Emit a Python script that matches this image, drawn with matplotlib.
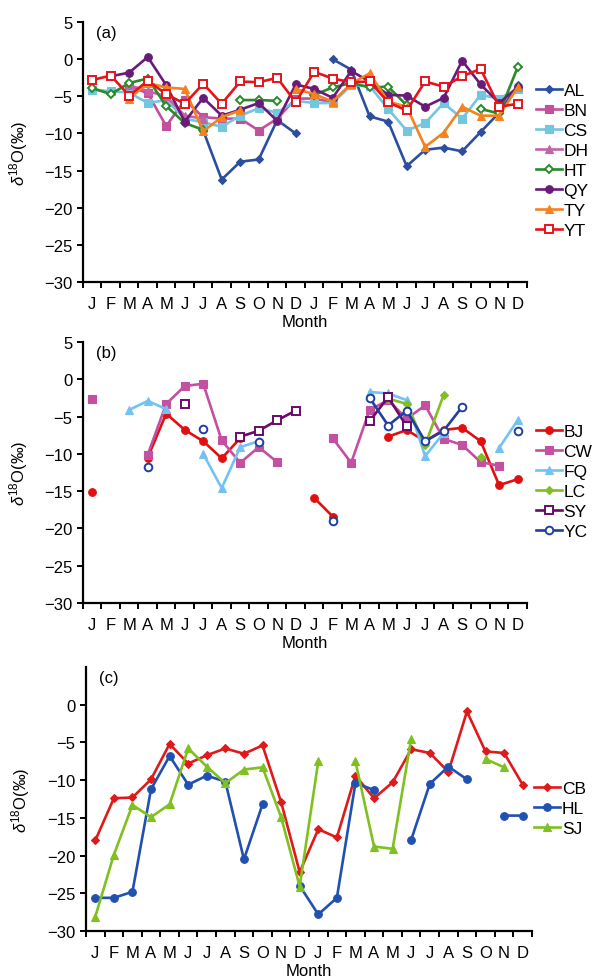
import numpy as np
import matplotlib
matplotlib.use("Agg")
import matplotlib.pyplot as plt

plt.rcParams['font.family'] = ['Liberation Sans', 'DejaVu Sans']
plt.rcParams['mathtext.fontset'] = 'custom'
plt.rcParams['mathtext.rm'] = 'Liberation Sans'
plt.rcParams['mathtext.it'] = 'Liberation Sans:italic'

nan = np.nan

# two years of monthly values, J..D J..D
MONTHS = ['J', 'F', 'M', 'A', 'M', 'J', 'J', 'A', 'S', 'O', 'N', 'D'] * 2

# ---------------- panel (a) ----------------
AL = [nan, nan, nan, nan, nan, nan, -9.6, -16.2, -13.8, -13.5, -8.2, -10.0,
      nan, 0.0, -1.4, -7.7, -8.4, -14.4, -12.2, -11.9, -12.4, -9.8, -7.2, -3.5]
BN = [nan, nan, -3.6, -4.6, -9.0, -5.5, -7.8, -8.0, -8.0, -9.6, -8.0, -5.3,
      -5.3, -5.8, nan, nan, nan, nan, nan, nan, nan, nan, nan, nan]
CS = [-4.1, -4.3, -4.5, -5.9, -5.5, -8.0, -8.5, -9.1, -7.6, -6.6, -7.2, -5.6,
      -5.9, -5.9, -3.5, -3.6, -6.7, -9.6, -8.6, -5.9, -8.0, -4.8, -5.3, -4.0]
DH = [nan, nan, -3.5, -4.3, -5.0, -7.6, -8.0, nan, nan, nan, nan, nan,
      nan, nan, nan, nan, nan, nan, nan, nan, nan, nan, nan, nan]
HT = [-3.9, -4.7, -3.2, -2.6, -6.3, -8.6, -9.5, nan, -5.5, -5.5, -5.6, nan,
      -4.8, -3.8, -3.2, -3.8, -3.7, -6.2, nan, nan, nan, -6.7, -7.3, -1.1]
QY = [nan, -2.3, -1.8, 0.3, -3.5, -8.4, -5.2, -7.6, -6.8, -5.9, -8.3, -3.4,
      -4.0, -5.2, -1.6, -3.0, -4.8, -4.9, -6.4, -5.2, -0.2, -3.4, -5.9, -3.8]
TY = [nan, nan, -5.3, -3.2, -3.8, -4.0, -9.7, -7.8, -6.9, nan, nan, -4.0,
      -4.7, -5.7, -3.3, -1.9, -5.7, -6.4, -11.8, -9.9, -6.4, -7.6, -7.6, -3.8]
YT = [-2.8, -2.2, -4.9, -2.9, -4.7, -6.0, -3.3, -6.0, -3.0, -3.1, -2.5, -5.8,
      -1.7, -2.6, -3.1, -3.0, -5.8, -6.9, -3.0, -3.7, -2.3, -1.3, -6.4, -6.0]

# ---------------- panel (b) ----------------
BJ = [-15.1, nan, nan, -10.5, -4.6, -6.8, -8.3, -10.6, -7.9, nan, nan, nan,
      -15.9, -18.4, nan, nan, -7.7, -6.8, -8.3, -6.8, -6.5, -8.3, -14.2, -13.4]
CW = [-2.7, nan, nan, -10.1, -3.3, -0.9, -0.6, -8.2, -11.2, -9.1, -11.1, nan,
      nan, -7.9, -11.2, -4.1, -2.8, -5.3, -3.5, -8.0, -8.8, -11.1, -11.6, nan]
FQ = [nan, nan, -4.1, -2.9, -4.0, nan, -10.0, -14.6, -9.1, -8.3, nan, nan,
      nan, nan, nan, -1.7, -1.9, -2.8, -10.3, -7.2, nan, nan, -9.2, -5.5]
LC = [nan, nan, nan, nan, nan, nan, nan, nan, nan, nan, nan, nan,
      nan, nan, nan, nan, -2.6, -3.3, -8.8, -2.1, nan, -10.4, nan, nan]
SY = [nan, nan, nan, nan, nan, -3.3, nan, nan, -7.7, -6.9, -5.5, -4.2,
      nan, nan, nan, -5.6, -2.4, -6.3, nan, nan, nan, nan, nan, nan]
YC = [nan, nan, nan, -11.8, nan, nan, -6.7, nan, nan, -8.4, nan, nan,
      nan, -19.0, nan, -2.5, -6.2, -4.2, -8.3, -6.9, -3.7, nan, nan, -6.9]

# ---------------- panel (c) ----------------
CB = [-18.0, -12.4, -12.3, -9.9, -5.2, -7.8, -6.7, -5.8, -6.5, -5.4, -12.9, -22.2,
      -16.5, -17.6, -9.4, -12.4, -10.3, -5.9, -6.4, -8.9, -0.9, -6.2, -6.4, -10.6]
HL = [-25.6, -25.6, -24.8, -11.2, -6.8, -10.6, -9.4, -10.2, -20.5, -13.2, nan, -24.0,
      -27.8, -25.6, -10.4, -11.3, nan, -17.9, -10.5, -8.2, -9.9, nan, -14.7, -14.7]
SJ = [-28.1, -19.9, -13.3, -14.9, -13.2, -5.8, -8.2, -10.4, -8.6, -8.3, -14.9, -24.1,
      -7.5, nan, -7.5, -18.8, -19.1, -4.5, nan, nan, nan, -7.2, -8.3, nan]

# name, values, colour, marker, open?
panel_a = [
    ('AL', AL, '#2b4f9e', 'D', False),
    ('BN', BN, '#c4509c', 's', False),
    ('CS', CS, '#72c6de', 's', False),
    ('DH', DH, '#c462a8', '^', False),
    ('HT', HT, '#2a8a2a', 'D', True),
    ('QY', QY, '#6a1a78', 'o', False),
    ('TY', TY, '#f5821f', '^', False),
    ('YT', YT, '#e5141c', 's', True),
]
panel_b = [
    ('BJ', BJ, '#e01010', 'o', False),
    ('CW', CW, '#c350a0', 's', False),
    ('FQ', FQ, '#74c2f4', '^', False),
    ('LC', LC, '#80c020', 'D', False),
    ('SY', SY, '#6a0a6a', 's', True),
    ('YC', YC, '#2040a0', 'o', True),
]
panel_c = [
    ('CB', CB, '#e01a1a', 'D', False),
    ('HL', HL, '#2050b0', 'o', False),
    ('SJ', SJ, '#80c020', '^', False),
]

FS = 12


def draw_panel(ax, series, tag, yticks, leg_y, leg_x=1.02, msize=5.5):
    x = np.arange(len(MONTHS)) + 0.5
    for name, vals, col, mk, hollow in series:
        ms = msize * (0.8 if mk == 'D' else 1.0)
        ax.plot(x, vals, color=col, lw=1.9, marker=mk, ms=ms,
                mfc='white' if hollow else col, mec=col,
                mew=1.4 if hollow else 0.8, label=name)
    ax.set_xlim(0, len(MONTHS))
    ax.set_ylim(-30, 5)
    ax.set_yticks(yticks)
    ax.set_xticks(np.arange(len(MONTHS) + 1))
    ax.set_xticklabels([])
    ax.set_xticks(x, minor=True)
    ax.set_xticklabels(MONTHS, minor=True, fontsize=FS)
    ax.tick_params(axis='x', which='minor', length=0, pad=10)
    ax.tick_params(axis='both', which='major', direction='out', length=4,
                   width=1.4, labelsize=FS)
    for s in ['top', 'right']:
        ax.spines[s].set_visible(False)
    for s in ['left', 'bottom']:
        ax.spines[s].set_linewidth(1.6)
    ax.set_xlabel('Month', fontsize=FS, labelpad=2)
    ax.set_ylabel(r'$\delta^{18}$O($‰$)', fontsize=FS)
    ax.yaxis.set_label_coords(-0.12, 0.5)
    ax.text(0.03, 0.99, tag, transform=ax.transAxes, fontsize=FS,
            va='top', ha='left')
    ax.legend(loc='center left', bbox_to_anchor=(leg_x, leg_y), frameon=False,
              fontsize=FS + 0.5, handlelength=1.5, handletextpad=0.1,
              labelspacing=0.28, borderpad=0, borderaxespad=0)


fig = plt.figure(figsize=(5.95, 9.78), dpi=100)
ax_a = fig.add_axes([0.1395, 0.7106, 0.746, 0.2658])
ax_b = fig.add_axes([0.1395, 0.3824, 0.746, 0.2669])
ax_c = fig.add_axes([0.1445, 0.0470, 0.7496, 0.2700])

draw_panel(ax_a, panel_a, '(a)', np.arange(5, -31, -5), 0.467)
draw_panel(ax_b, panel_b, '(b)', np.arange(5, -31, -5), 0.465)
draw_panel(ax_c, panel_c, '(c)', np.arange(0, -31, -5), 0.464, leg_x=1.005)

fig.savefig('out.png', dpi=100)
